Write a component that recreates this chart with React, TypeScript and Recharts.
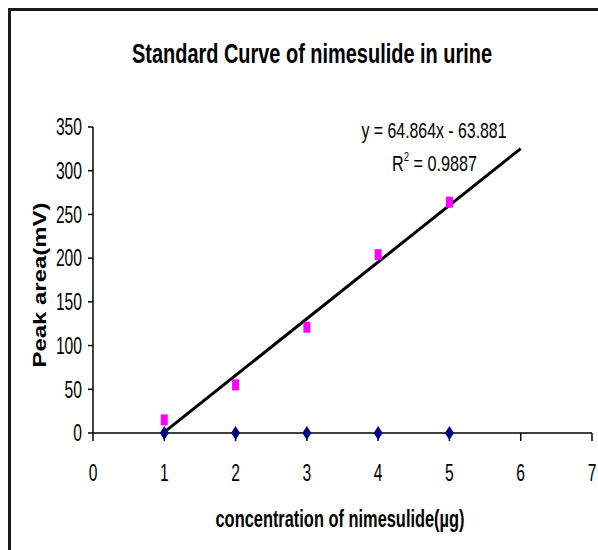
import { ComposedChart, Scatter, XAxis, YAxis } from 'recharts'

// concentration (µg) and measured peak area (mV)
const conc = [1, 2, 3, 4, 5]
const peakArea = [15, 55, 121, 204, 264]
const blankArea = [0, 0, 0, 0, 0]

const xTicks = [0, 1, 2, 3, 4, 5, 6, 7]
const yTicks = [0, 50, 100, 150, 200, 250, 300, 350]

// excel linear trendline, y = 64.864x - 63.881
const slope = 64.864
const intercept = -63.881
const trendX = [1, 6]

const samples = conc.map((x, i) => ({ x, y: peakArea[i] }))
const blanks = conc.map((x, i) => ({ x, y: blankArea[i] }))
const trend = trendX.map(x => ({ x, y: slope * x + intercept }))

const NARROW = '"Liberation Sans Narrow", "Arial Narrow", "Liberation Sans", Arial, sans-serif'
const ARIAL = '"Liberation Sans", Arial, sans-serif'

// the reference text is squeezed sideways, so each label gets a fixed length
const DIGIT_W = 8.7

function XTick({ x, y, payload }: any) {
  const s = String(payload.value)
  return (
    <text x={x} y={y + 40} textAnchor="middle" fontFamily={NARROW} fontSize={23} fill="#000"
      textLength={s.length * DIGIT_W} lengthAdjust="spacingAndGlyphs">
      {s}
    </text>
  )
}

function YTick({ x, y, payload }: any) {
  const s = String(payload.value)
  return (
    <text x={x - 6} y={y} dy="0.36em" textAnchor="end" fontFamily={NARROW} fontSize={23} fill="#000"
      textLength={s.length * DIGIT_W} lengthAdjust="spacingAndGlyphs">
      {s}
    </text>
  )
}

const PinkSquare = (p: any) => (
  <rect x={p.cx - 3.5} y={p.cy - 5.5} width={7} height={11} fill="#ff00ff" />
)

const NavyDiamond = (p: any) => (
  <path
    d={`M${p.cx},${p.cy - 7} L${p.cx + 4.5},${p.cy} L${p.cx},${p.cy + 7} L${p.cx - 4.5},${p.cy} Z`}
    fill="#000080"
  />
)

const NoDot = () => <g />

export default function App() {
  return (
    <div style={{ position: 'absolute', left: 0, top: 0, width: 598, height: 550, overflow: 'hidden', background: '#fff' }}>
      {/* chart frame: only left and top edges show in the picture */}
      <div style={{ position: 'absolute', left: 8, top: 8, width: 600, height: 560, borderLeft: '3px solid #1a1a1a', borderTop: '3px solid #1a1a1a' }} />
      <svg width={598} height={550} style={{ position: 'absolute', left: 0, top: 0 }}>
        <text x={312} y={63} textAnchor="middle" fontFamily={NARROW} fontWeight="bold" fontSize={28}
          textLength={360} lengthAdjust="spacingAndGlyphs" fill="#000">
          Standard Curve of nimesulide in urine
        </text>
        <text x={340} y={527} textAnchor="middle" fontFamily={NARROW} fontWeight="bold" fontSize={23}
          textLength={249} lengthAdjust="spacingAndGlyphs" fill="#000">
          concentration of nimesulide(µg)
        </text>
        <text transform="translate(46,285) rotate(-90)" x={0} y={0} textAnchor="middle" fontFamily={ARIAL}
          fontWeight="bold" fontSize={18} textLength={165} lengthAdjust="spacingAndGlyphs" fill="#000">
          Peak area(mV)
        </text>
        <text x={434} y={138} textAnchor="middle" fontFamily={NARROW} fontSize={22}
          textLength={145} lengthAdjust="spacingAndGlyphs" fill="#000">
          y = 64.864x - 63.881
        </text>
        <text x={392} y={171} fontFamily={NARROW} fontSize={22} fill="#000"
          textLength={85} lengthAdjust="spacingAndGlyphs">
          R<tspan dy={-10} fontSize={13}>2</tspan><tspan dy={10}> = 0.9887</tspan>
        </text>
      </svg>
      <ComposedChart
        width={598}
        height={550}
        margin={{ top: 127, right: 6, bottom: 87, left: 33 }}
        style={{ position: 'absolute', left: 0, top: 0 }}
      >
        <XAxis
          type="number"
          dataKey="x"
          domain={[0, 7]}
          ticks={xTicks}
          interval={0}
          height={30}
          tickSize={8}
          tickMargin={0}
          tick={<XTick />}
          axisLine={{ stroke: '#000', strokeWidth: 1.5 }}
          tickLine={{ stroke: '#000', strokeWidth: 1.5 }}
        />
        <YAxis
          type="number"
          dataKey="y"
          domain={[0, 350]}
          ticks={yTicks}
          interval={0}
          width={60}
          tickSize={5}
          tickMargin={0}
          tick={<YTick />}
          axisLine={{ stroke: '#000', strokeWidth: 1.5 }}
          tickLine={{ stroke: '#000', strokeWidth: 1.5 }}
        />
        <Scatter data={trend} line={{ stroke: '#000', strokeWidth: 3 }} shape={<NoDot />} isAnimationActive={false} />
        <Scatter data={samples} shape={<PinkSquare />} isAnimationActive={false} />
        <Scatter data={blanks} shape={<NavyDiamond />} isAnimationActive={false} />
      </ComposedChart>
    </div>
  )
}
